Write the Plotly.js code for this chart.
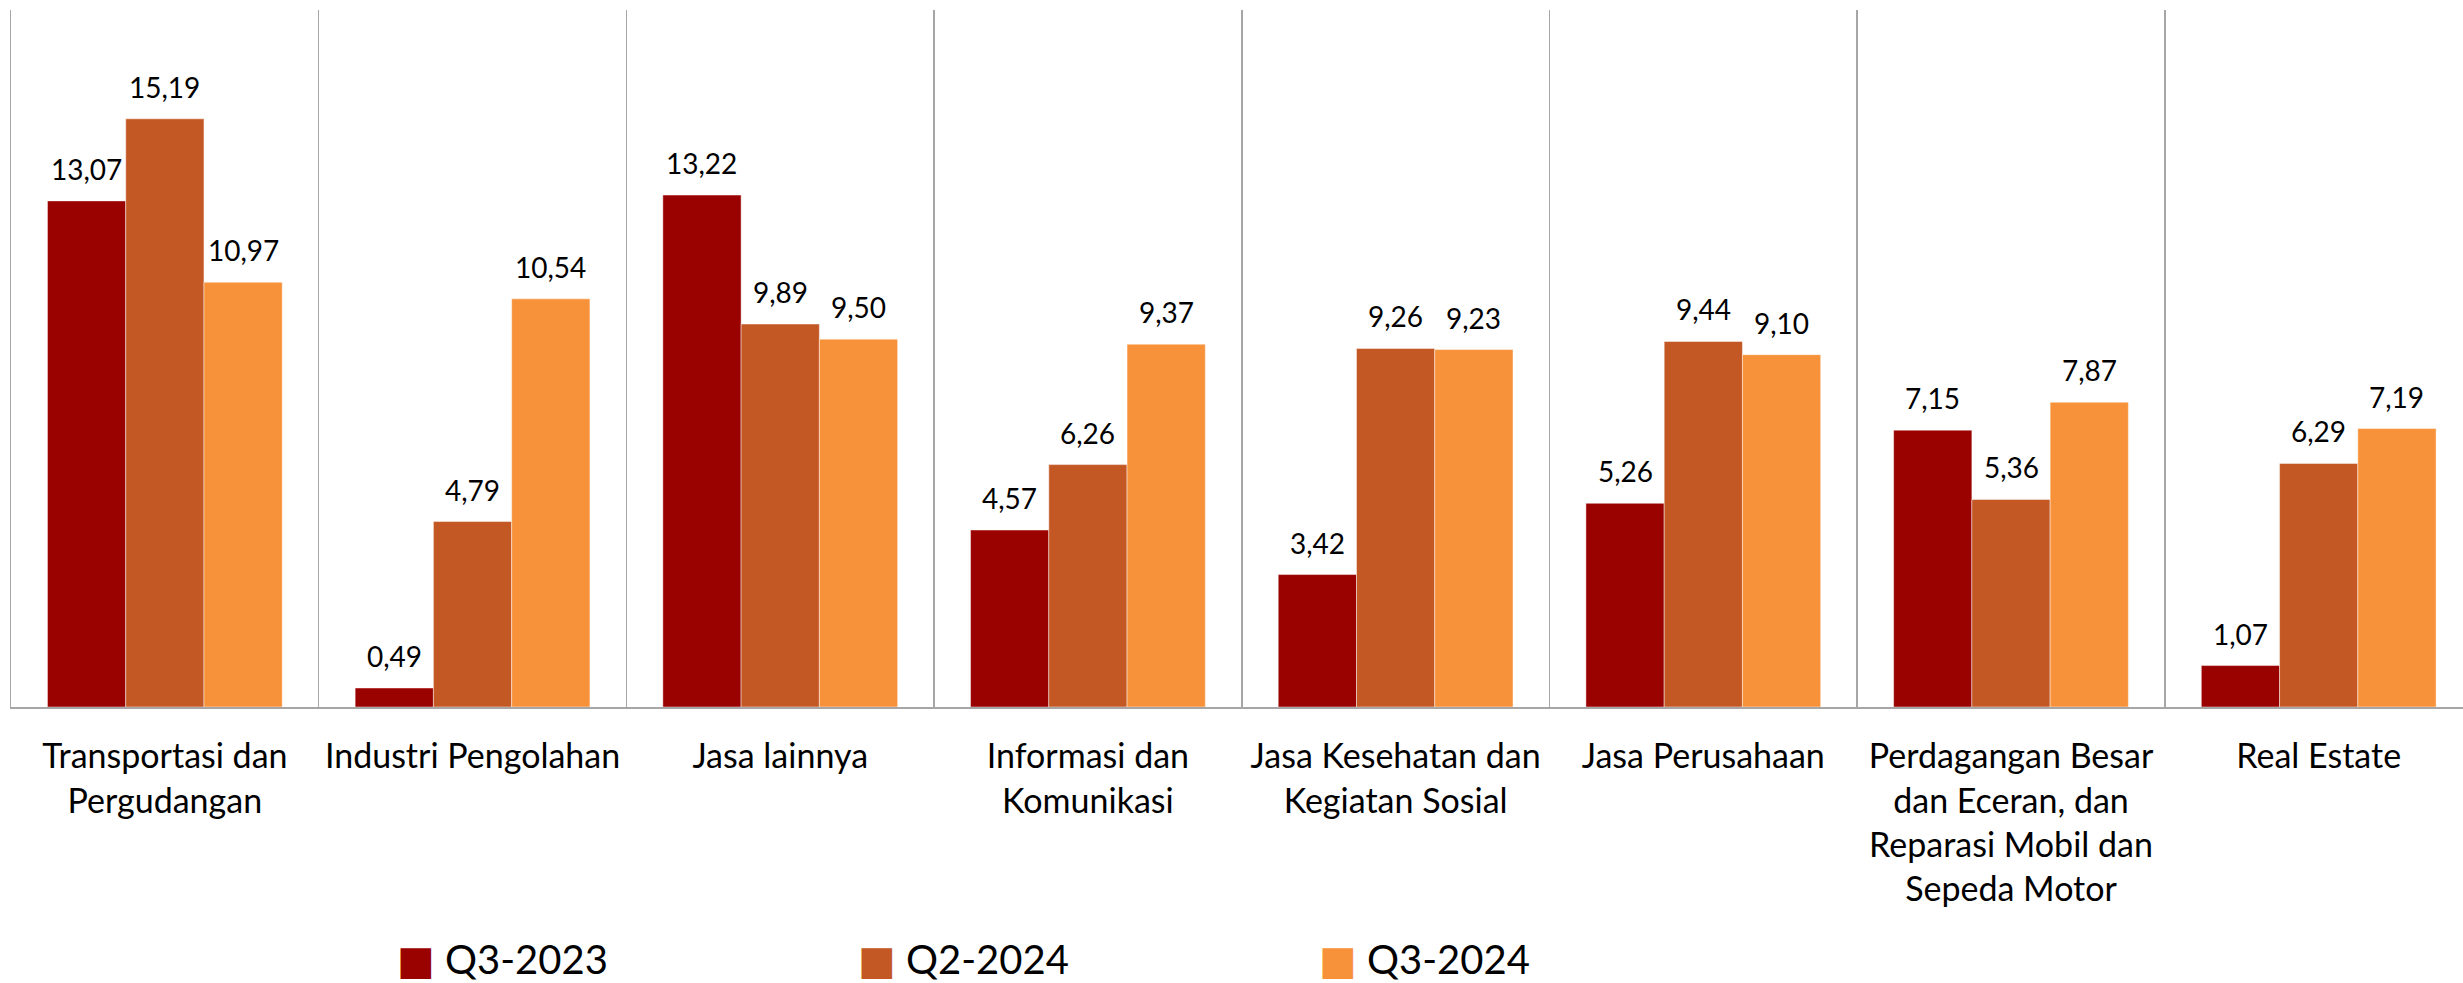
<!DOCTYPE html>
<html>
<head>
<meta charset="utf-8">
<script src="https://cdn.plot.ly/plotly-3.0.1.min.js"></script>
<style>html,body{margin:0;padding:0;background:#fff;}#chart{width:2463px;height:983px;}</style>
</head>
<body>
<div id="chart"></div>
<script>
const categories = [
  "Transportasi dan<br>Pergudangan",
  "Industri Pengolahan",
  "Jasa lainnya",
  "Informasi dan<br>Komunikasi",
  "Jasa Kesehatan dan<br>Kegiatan Sosial",
  "Jasa Perusahaan",
  "Perdagangan Besar<br>dan Eceran, dan<br>Reparasi Mobil dan<br>Sepeda Motor",
  "Real Estate"
];
const seriesNames = ["Q3-2023", "Q2-2024", "Q3-2024"];
const q3_2023 = [13.07, 0.49, 13.22, 4.57, 3.42, 5.26, 7.15, 1.07];
const q2_2024 = [15.19, 4.79, 9.89, 6.26, 9.26, 9.44, 5.36, 6.29];
const q3_2024 = [10.97, 10.54, 9.50, 9.37, 9.23, 9.10, 7.87, 7.19];
const seriesValues = [q3_2023, q2_2024, q3_2024];
const colors = ["#9A0200", "#C45825", "#F7923A"];

const FONT = "Lato, 'Open Sans', 'Noto Sans', sans-serif";
const bargap = 0.237;
const barW = (1 - bargap) / 3;

const traces = seriesValues.map((vals, k) => ({
  type: "bar",
  name: seriesNames[k],
  x: categories,
  y: vals,
  showlegend: false,
  marker: { color: colors[k], line: { color: "rgba(255,255,255,0.45)", width: 1 } },
  hoverinfo: "skip"
}));

// legend entries (large square key like the original)
seriesNames.forEach((nm, k) => {
  traces.push({
    type: "scatter",
    mode: "markers",
    x: [null],
    y: [null],
    name: '<span style="color:' + colors[k] + ';font-family:DejaVu Sans">■</span> ' + nm,
    marker: { color: "rgba(0,0,0,0)", size: 1 },
    showlegend: true,
    hoverinfo: "skip"
  });
});

const fmt = v => v.toFixed(2).replace(".", ",");
const annotations = [];
seriesValues.forEach((vals, k) => {
  vals.forEach((v, i) => {
    annotations.push({
      x: i + (k - 1) * barW,
      y: v,
      xref: "x",
      yref: "y",
      text: fmt(v),
      showarrow: false,
      yanchor: "bottom",
      xanchor: "center",
      yshift: 13,
      font: { family: FONT, size: 28, color: "#000" }
    });
  });
});

const layout = {
  width: 2463,
  height: 983,
  margin: { l: 11, r: 0, t: 10, b: 276 },
  paper_bgcolor: "#fff",
  plot_bgcolor: "#fff",
  barmode: "group",
  bargap: bargap,
  bargroupgap: 0,
  showlegend: true,
  legend: {
    orientation: "h",
    x: 0.1411,
    xanchor: "left",
    yref: "container",
    y: 0.025,
    yanchor: "middle",
    entrywidth: 416,
    entrywidthmode: "pixels",
    font: { family: FONT, size: 40, color: "#000" },
    traceorder: "normal"
  },
  xaxis: {
    type: "category",
    range: [-0.5, 7.469],
    tickson: "boundaries",
    showgrid: true,
    gridcolor: "#a6a6a6",
    gridwidth: 1.5,
    showline: true,
    linecolor: "#a6a6a6",
    linewidth: 1.5,
    ticks: "",
    ticklabelstandoff: 19,
    tickfont: { family: FONT, size: 34, color: "#000" },
    fixedrange: true
  },
  yaxis: {
    range: [0, 18],
    showgrid: false,
    zeroline: false,
    showticklabels: false,
    showline: true,
    linecolor: "#a6a6a6",
    linewidth: 1.5,
    ticks: "",
    fixedrange: true
  },
  annotations: annotations,
  font: { family: FONT }
};

Plotly.newPlot("chart", traces, layout, { displayModeBar: false, staticPlot: true });
</script>
</body>
</html>
